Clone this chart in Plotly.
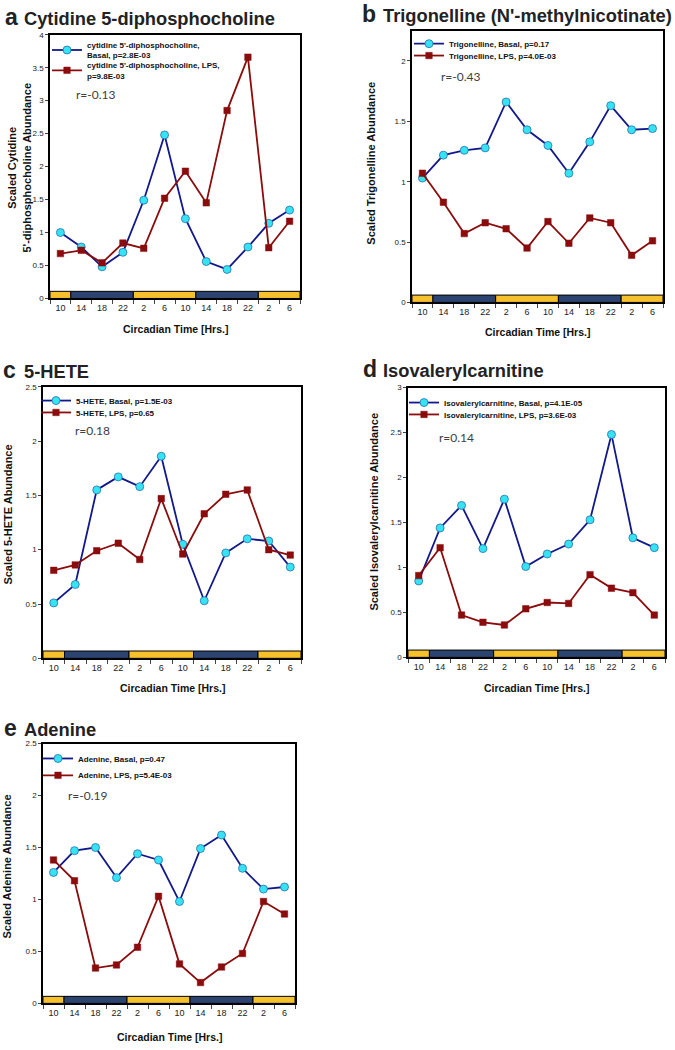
import plotly.graph_objects as go

# ---------------- data ----------------
hours = ["10", "14", "18", "22", "2", "6", "10", "14", "18", "22", "2", "6"]
slots = list(range(len(hours)))

# light/dark schedule bar (edges in slot units)
phase_edges = [-0.5, 0.5, 3.5, 6.5, 9.5, 11.5]
phase_kind = ["light", "dark", "light", "dark", "light"]

cdp_basal = [1.00, 0.78, 0.48, 0.70, 1.49, 2.48, 1.21, 0.56, 0.44, 0.78, 1.14, 1.34]
cdp_lps = [0.68, 0.73, 0.54, 0.84, 0.76, 1.52, 1.93, 1.45, 2.85, 3.66, 0.77, 1.17]

trig_basal = [1.03, 1.22, 1.26, 1.28, 1.66, 1.43, 1.30, 1.07, 1.33, 1.63, 1.43, 1.44]
trig_lps = [1.07, 0.83, 0.57, 0.66, 0.61, 0.45, 0.67, 0.49, 0.70, 0.66, 0.39, 0.51]

hete_basal = [0.51, 0.68, 1.55, 1.67, 1.58, 1.86, 1.05, 0.53, 0.97, 1.10, 1.08, 0.84]
hete_lps = [0.81, 0.86, 0.99, 1.06, 0.91, 1.47, 0.96, 1.33, 1.51, 1.55, 1.00, 0.95]

iso_basal = [0.85, 1.44, 1.69, 1.21, 1.76, 1.01, 1.15, 1.26, 1.53, 2.48, 1.33, 1.22]
iso_lps = [0.91, 1.22, 0.47, 0.39, 0.36, 0.54, 0.61, 0.60, 0.92, 0.77, 0.72, 0.47]

ade_basal = [1.26, 1.47, 1.50, 1.21, 1.44, 1.38, 0.98, 1.49, 1.62, 1.30, 1.10, 1.12]
ade_lps = [1.38, 1.18, 0.34, 0.37, 0.54, 1.03, 0.38, 0.20, 0.35, 0.48, 0.98, 0.86]

panel_letters = ["a", "b", "c", "d", "e"]
panel_titles = ["Cytidine 5-diphosphocholine", "Trigonelline (N'-methylnicotinate)",
                "5-HETE", "Isovalerylcarnitine", "Adenine"]
y_titles = ["Scaled Cytidine<br>5'-diphosphocholine Abundance",
            "Scaled Trigonelline Abundance", "Scaled 5-HETE Abundance",
            "Scaled Isovalerylcarnitine Abundance", "Scaled Adenine Abundance"]
basal_names = ["cytidine 5'-diphosphocholine,<br>Basal, p=2.8E-03",
               "Trigonelline, Basal, p=0.17", "5-HETE, Basal, p=1.5E-03",
               "Isovalerylcarnitine, Basal, p=4.1E-05", "Adenine, Basal, p=0.47"]
lps_names = ["cytidine 5'-diphosphocholine, LPS,<br>p=9.8E-03",
             "Trigonelline, LPS, p=4.0E-03", "5-HETE, LPS, p=0.65",
             "Isovalerylcarnitine, LPS, p=3.6E-03", "Adenine, LPS, p=5.4E-03"]
r_values = ["r=-0.13", "r=-0.43", "r=0.18", "r=0.14", "r=-0.19"]
y_max = [4.0, 2.25, 2.5, 3.0, 2.5]
basal_series = [cdp_basal, trig_basal, hete_basal, iso_basal, ade_basal]
lps_series = [cdp_lps, trig_lps, hete_lps, iso_lps, ade_lps]

# ---------------- layout geometry (pixels) ----------------
W, H = 675, 1050
def fx(p):
    return p / W
def fy(p):
    return 1 - p / H

geom = [
    dict(box=(50, 300, 31, 297), letter=3, title=(22, 15), ytitle=(19, 165), xtitle=328,
         r=(74, 91), leg_x=47, leg_y=(46.5, 67)),
    dict(box=(412, 663, 27, 301), letter=360, title=(381, 11.5), ytitle=(371, 160), xtitle=331,
         r=(439, 73), leg_x=409, leg_y=(40, 52)),
    dict(box=(43, 301, 386, 660), letter=1, title=(22, 370.5), ytitle=(8, 515), xtitle=690,
         r=(73, 430), leg_x=36, leg_y=(400, 412)),
    dict(box=(408, 665, 387, 659), letter=361, title=(381, 370), ytitle=(374, 512), xtitle=690,
         r=(437, 437), leg_x=404, leg_y=(402, 414)),
    dict(box=(43, 295, 746, 1008), letter=2, title=(22, 731.5), ytitle=(7, 870), xtitle=1042,
         r=(66, 798), leg_x=38, leg_y=(761, 778)),
]

BASAL_LINE = "#12198a"
BASAL_FILL = "#35e3f2"
LPS_COLOR = "#8a0c0c"
LIGHT_COLOR = "#f6c12c"
DARK_COLOR = "#2c4470"
FONT = "Liberation Sans, Arial, sans-serif"

fig = go.Figure()
annotations = []
shapes = []
layout_axes = {}
legends = {}

for i in range(5):
    n = i + 1
    xa = "x" if n == 1 else f"x{n}"
    ya = "y" if n == 1 else f"y{n}"
    leg_b = "legend" if i == 0 else f"legend{2 * i + 1}"
    leg_l = f"legend{2 * i + 2}"
    g = geom[i]
    bx0, bx1, by0, by1 = g["box"]

    fig.add_trace(go.Scatter(
        x=slots, y=basal_series[i], mode="lines+markers", name=basal_names[i],
        xaxis=xa, yaxis=ya, legend=leg_b,
        line=dict(color=BASAL_LINE, width=1.8),
        marker=dict(symbol="circle", size=8, color=BASAL_FILL,
                    line=dict(color="#2a6fb0", width=0.8)),
    ))
    fig.add_trace(go.Scatter(
        x=slots, y=lps_series[i], mode="lines+markers", name=lps_names[i],
        xaxis=xa, yaxis=ya, legend=leg_l,
        line=dict(color=LPS_COLOR, width=1.8),
        marker=dict(symbol="square", size=6.5, color=LPS_COLOR,
                    line=dict(color=LPS_COLOR, width=0.5)),
    ))

    xkey = "xaxis" if n == 1 else f"xaxis{n}"
    ykey = "yaxis" if n == 1 else f"yaxis{n}"
    layout_axes[xkey] = dict(
        domain=[fx(bx0), fx(bx1)], anchor=ya, range=[-0.5, 11.5],
        tickmode="array", tickvals=slots, ticktext=hours,
        ticks="", showgrid=False, zeroline=False,
        showline=True, linecolor="black", linewidth=1.6, mirror=True,
        tickfont=dict(family=FONT, size=9, color="#222"),
        minor=dict(ticks="outside", tickmode="linear", tick0=0.5, dtick=1,
                   ticklen=4, tickcolor="#444", tickwidth=1, showgrid=False),
        fixedrange=True,
    )
    layout_axes[ykey] = dict(
        domain=[fy(by1), fy(by0)], anchor=xa, range=[0, y_max[i]],
        tickmode="linear", tick0=0, dtick=0.5,
        ticks="outside", ticklen=3, tickcolor="#444",
        showgrid=False, zeroline=False,
        showline=True, linecolor="black", linewidth=1.6, mirror=True,
        tickfont=dict(family=FONT, size=8, color="#222"),
        fixedrange=True,
    )

    # light / dark bar
    for k, kind in enumerate(phase_kind):
        shapes.append(dict(
            type="rect", xref=xa, yref=f"{ya} domain",
            x0=phase_edges[k], x1=phase_edges[k + 1], y0=0.0, y1=0.027,
            fillcolor=LIGHT_COLOR if kind == "light" else DARK_COLOR,
            line=dict(color="black", width=1), layer="above",
        ))

    # one legend per series so spacing matches
    for key, ly in ((leg_b, g["leg_y"][0]), (leg_l, g["leg_y"][1])):
        legends[key] = dict(
            x=fx(g["leg_x"]), y=fy(ly), xanchor="left", yanchor="middle",
            xref="paper", yref="paper", bgcolor="rgba(0,0,0,0)",
            font=dict(family=FONT, size=8, color="#111", weight="bold"),
            tracegroupgap=0, itemwidth=30,
        )

    # panel letter and title
    tx, ty = g["title"]
    annotations.append(dict(
        xref="paper", yref="paper", x=fx(g["letter"]), y=fy(ty - 1.5),
        xanchor="left", yanchor="middle", text=panel_letters[i], showarrow=False,
        font=dict(family=FONT, size=23, color="#222", weight="bold"),
    ))
    annotations.append(dict(
        xref="paper", yref="paper", x=fx(tx), y=fy(ty),
        xanchor="left", yanchor="middle", text=panel_titles[i], showarrow=False,
        font=dict(family=FONT, size=18.3, color="#222", weight="bold"),
    ))
    # y title
    yx, yy = g["ytitle"]
    annotations.append(dict(
        xref="paper", yref="paper", x=fx(yx), y=fy(yy), xanchor="center", yanchor="middle",
        text=y_titles[i], textangle=-90, showarrow=False,
        font=dict(family=FONT, size=11, color="#111", weight="bold"),
    ))
    # x title
    annotations.append(dict(
        xref="paper", yref="paper", x=fx((bx0 + bx1) / 2), y=fy(g["xtitle"]),
        xanchor="center", yanchor="middle", text="Circadian Time [Hrs.]",
        showarrow=False, font=dict(family=FONT, size=10.5, color="#111", weight="bold"),
    ))
    # r annotation
    rx, ry = g["r"]
    annotations.append(dict(
        xref="paper", yref="paper", x=fx(rx), y=fy(ry), xanchor="left", yanchor="middle",
        text=r_values[i], showarrow=False,
        font=dict(family="Lato, Carlito, sans-serif", size=12, color="#404040"),
    ))

fig.update_layout(**layout_axes)
fig.update_layout(**legends)
fig.update_layout(
    width=W, height=H, margin=dict(l=0, r=0, t=0, b=0),
    paper_bgcolor="white", plot_bgcolor="white",
    showlegend=True, annotations=annotations, shapes=shapes,
)

fig.write_html(
    "out.html",
    config={"displayModeBar": False},
    post_script="document.body.style.margin='0';document.body.style.overflow='hidden';",
)
